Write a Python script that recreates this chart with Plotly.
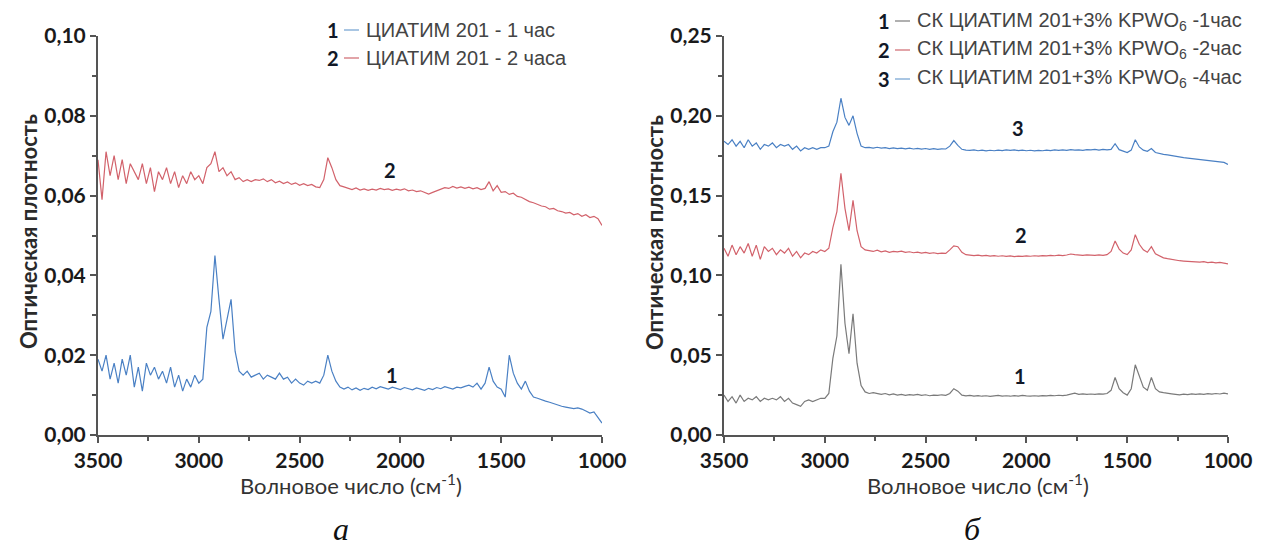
import plotly.graph_objects as go

# Wavenumber grid (cm-1), 3500 -> 1000, step 20
wavenumber = list(range(3500, 999, -20))

# Panel a: ЦИАТИМ 201
a1_1h = [
    0.019, 0.016, 0.020, 0.014, 0.018, 0.013, 0.019, 0.015, 0.020, 0.012,
    0.017, 0.011, 0.018, 0.015, 0.017, 0.014, 0.016, 0.013, 0.017, 0.012,
    0.015, 0.011, 0.014, 0.012, 0.015, 0.013,
    0.014, 0.027, 0.031, 0.045, 0.034, 0.024, 0.029, 0.034, 0.021, 0.016,
    0.015, 0.016, 0.0145, 0.015, 0.0155, 0.014, 0.015, 0.0145, 0.014, 0.0155, 0.014, 0.0145,
    0.013, 0.014, 0.013, 0.0125, 0.0135, 0.013, 0.0135, 0.013, 0.015, 0.020, 0.016, 0.0135, 0.012,
    0.0115, 0.012, 0.0113, 0.0118, 0.0112, 0.0117, 0.0114, 0.012, 0.0116, 0.0121,
    0.0118, 0.0115, 0.012, 0.0117, 0.0114, 0.0119, 0.0116, 0.0113, 0.0118, 0.0115,
    0.0112, 0.0117, 0.0114, 0.0119, 0.0116, 0.0121, 0.0117, 0.0115, 0.012, 0.0118, 0.0122,
    0.0125, 0.012, 0.013, 0.0115, 0.013, 0.017, 0.0135, 0.012, 0.0115, 0.0095,
    0.020, 0.0155, 0.013, 0.0115, 0.0135, 0.011, 0.0095, 0.0092, 0.0088, 0.0085,
    0.0082, 0.0078, 0.0075, 0.0072, 0.007, 0.0068, 0.0066, 0.0068, 0.0065, 0.006,
    0.0055, 0.0058, 0.0045, 0.003,
]
a2_2h = [
    0.069, 0.059, 0.071, 0.065, 0.070, 0.064, 0.069, 0.063, 0.068, 0.066,
    0.064, 0.068, 0.063, 0.067, 0.061, 0.066, 0.064, 0.067, 0.063, 0.066,
    0.062, 0.065, 0.063, 0.066, 0.064, 0.065,
    0.063, 0.067, 0.068, 0.071, 0.066, 0.067, 0.065, 0.066, 0.064, 0.0645,
    0.0635, 0.064, 0.0635, 0.064, 0.0638, 0.0642, 0.0635, 0.064, 0.0632, 0.0636,
    0.063, 0.0634, 0.0628, 0.0632, 0.0626, 0.063, 0.0625, 0.0628, 0.0622, 0.062,
    0.064, 0.0695, 0.067, 0.064, 0.0625,
    0.0622, 0.0618, 0.0615, 0.0619, 0.0614, 0.0617, 0.0613, 0.0616, 0.0614, 0.0618,
    0.0615, 0.0617, 0.0613, 0.0616, 0.0614, 0.0617, 0.0612, 0.0614, 0.061, 0.0612,
    0.0607, 0.0604, 0.0608, 0.0612, 0.0616, 0.062, 0.0618, 0.0623, 0.0619, 0.0622, 0.0618,
    0.0621, 0.0617, 0.062, 0.0615, 0.0618, 0.0635, 0.0612, 0.0625, 0.0608, 0.061,
    0.0603, 0.0606, 0.0598, 0.0596, 0.059, 0.0585, 0.0582, 0.0578, 0.0574, 0.0572,
    0.0566, 0.0568, 0.0562, 0.056, 0.0556, 0.0558, 0.0552, 0.0555, 0.0548, 0.0552,
    0.0545, 0.0548, 0.0542, 0.0525,
]

# Panel б: СК ЦИАТИМ 201+3% KPWO6
b1_1h = [
    0.025, 0.021, 0.024, 0.020, 0.025, 0.021, 0.023, 0.022, 0.024, 0.021,
    0.023, 0.022, 0.023, 0.022, 0.024, 0.021, 0.023, 0.020, 0.019, 0.018,
    0.021, 0.022, 0.021, 0.022, 0.023, 0.023,
    0.026, 0.048, 0.062, 0.107, 0.070, 0.051, 0.076, 0.045, 0.031, 0.027,
    0.026, 0.0265, 0.026, 0.0255, 0.026, 0.0252, 0.0257, 0.025, 0.0255, 0.0248,
    0.0253, 0.025, 0.0255, 0.0248, 0.0252, 0.0246, 0.025, 0.0248, 0.0252, 0.0249,
    0.026, 0.029, 0.0275, 0.025, 0.0245,
    0.0248, 0.0244, 0.0247, 0.0243, 0.0246, 0.0242, 0.0245, 0.0248, 0.0244, 0.0246,
    0.0243, 0.0247, 0.0244, 0.0248, 0.0245, 0.0243, 0.0246, 0.0244, 0.0247, 0.0245,
    0.0248, 0.0246, 0.0249, 0.0247, 0.025, 0.0258, 0.0262, 0.0255, 0.0258, 0.0254, 0.0257,
    0.0255, 0.0258, 0.0256, 0.026, 0.028, 0.036, 0.029, 0.0265, 0.025, 0.029,
    0.044, 0.037, 0.030, 0.028, 0.036, 0.029, 0.027, 0.0265, 0.026,
    0.0258, 0.0255, 0.0252, 0.0256, 0.0253, 0.0257, 0.0254, 0.0258, 0.0255, 0.0259,
    0.0256, 0.026, 0.0257, 0.0262, 0.0258,
]
b2_2h = [
    0.117, 0.112, 0.119, 0.113, 0.118, 0.114, 0.120, 0.112, 0.119, 0.110,
    0.118, 0.115, 0.117, 0.113, 0.116, 0.114, 0.117, 0.112, 0.115, 0.111,
    0.114, 0.113, 0.115, 0.114, 0.116, 0.115,
    0.117, 0.130, 0.140, 0.164, 0.142, 0.128, 0.147, 0.128, 0.118, 0.116,
    0.1155, 0.115, 0.1158, 0.1148, 0.1153, 0.1145, 0.115, 0.1147, 0.1152, 0.1144,
    0.1148, 0.1142, 0.1146, 0.114, 0.1144, 0.1138, 0.1142, 0.1137, 0.114, 0.1138,
    0.116, 0.1185, 0.118, 0.1145, 0.113,
    0.1128, 0.1124, 0.1127, 0.1122, 0.1125, 0.1121, 0.1124, 0.112, 0.1123, 0.1119,
    0.1122, 0.1118, 0.1121, 0.1119, 0.1122, 0.112, 0.1123, 0.1121, 0.1124, 0.1122,
    0.1125, 0.1123, 0.1127, 0.1124, 0.1128, 0.1134, 0.113, 0.1127, 0.1125, 0.1128, 0.1126,
    0.1125, 0.1128, 0.1126, 0.113, 0.115, 0.1215, 0.1165, 0.114, 0.113, 0.116,
    0.1255, 0.1195, 0.116, 0.1145, 0.118, 0.1135, 0.112, 0.111, 0.1105,
    0.11, 0.1095, 0.1092, 0.109, 0.1088, 0.1085, 0.1087, 0.1083, 0.1086, 0.108,
    0.1083, 0.1078, 0.1081, 0.1076, 0.1072,
]
b3_4h = [
    0.184, 0.182, 0.185, 0.181, 0.184, 0.180, 0.185, 0.181, 0.183, 0.179,
    0.182, 0.181, 0.183, 0.180, 0.182, 0.181, 0.182, 0.179, 0.181, 0.178,
    0.180, 0.179, 0.180, 0.179, 0.180, 0.180,
    0.181, 0.190, 0.196, 0.211, 0.199, 0.194, 0.200, 0.189, 0.181, 0.180,
    0.1802, 0.1798, 0.1803, 0.1797, 0.18, 0.1795, 0.1799, 0.1794, 0.1798, 0.1793,
    0.1797, 0.1792, 0.1796, 0.1791, 0.1795, 0.179, 0.1794, 0.179, 0.1793, 0.1792,
    0.181, 0.1845, 0.1815, 0.179, 0.1785,
    0.1783, 0.1786, 0.1781, 0.1785, 0.178, 0.1784, 0.1781, 0.1785, 0.1782, 0.1786,
    0.1783, 0.1787, 0.1782, 0.1785, 0.1781, 0.1784, 0.178, 0.1783, 0.1781, 0.1785,
    0.1782, 0.1786, 0.1783, 0.1787, 0.1784, 0.1788, 0.1785, 0.1787, 0.1784, 0.1788, 0.1786,
    0.1789, 0.1785, 0.179, 0.1787, 0.179, 0.1825, 0.1788, 0.1778, 0.177, 0.1785,
    0.185, 0.1805, 0.1785, 0.1778, 0.1795, 0.177, 0.1762, 0.1758, 0.1755,
    0.175, 0.1746, 0.1742, 0.1738, 0.1735, 0.1732, 0.173, 0.1728, 0.1726, 0.1724,
    0.172, 0.1718, 0.1712, 0.1708, 0.1695,
]

left_names = ["ЦИАТИМ 201 - 1 час", "ЦИАТИМ 201 - 2 часа"]
right_names = [
    "СК ЦИАТИМ 201+3% KPWO<sub>6</sub> -1час",
    "СК ЦИАТИМ 201+3% KPWO<sub>6</sub> -2час",
    "СК ЦИАТИМ 201+3% KPWO<sub>6</sub> -4час",
]
left_ticks = [0.0, 0.02, 0.04, 0.06, 0.08, 0.10]
right_ticks = [0.0, 0.05, 0.10, 0.15, 0.20, 0.25]
x_ticks = [3500, 3000, 2500, 2000, 1500, 1000]

BLUE = "#4a80c4"
RED = "#d2626b"
GRAY = "#7a7a7a"
LBLUE = "#a9c6e3"
LRED = "#e2a4a8"
LGRAY = "#b0b0b0"

W, H = 1264, 546
def px(x):
    return x / W
def py(y):
    return 1 - y / H

fig = go.Figure()
fig.add_trace(go.Scatter(x=wavenumber, y=a1_1h, mode="lines", line=dict(color=BLUE, width=1.2),
                         xaxis="x", yaxis="y", showlegend=False))
fig.add_trace(go.Scatter(x=wavenumber, y=a2_2h, mode="lines", line=dict(color=RED, width=1.2),
                         xaxis="x", yaxis="y", showlegend=False))
fig.add_trace(go.Scatter(x=wavenumber, y=b1_1h, mode="lines", line=dict(color=GRAY, width=1.2),
                         xaxis="x2", yaxis="y2", showlegend=False))
fig.add_trace(go.Scatter(x=wavenumber, y=b2_2h, mode="lines", line=dict(color=RED, width=1.2),
                         xaxis="x2", yaxis="y2", showlegend=False))
fig.add_trace(go.Scatter(x=wavenumber, y=b3_4h, mode="lines", line=dict(color=BLUE, width=1.2),
                         xaxis="x2", yaxis="y2", showlegend=False))

tickfont = dict(family="Lato, Open Sans, sans-serif", size=21, color="#1a1a1a", weight="bold")
axcommon = dict(showline=True, linecolor="#555", linewidth=2, ticks="outside", ticklen=6,
                tickcolor="#555", tickwidth=1.5, showgrid=False, zeroline=False,
                tickfont=tickfont, automargin=False, fixedrange=True)

ydom = [py(427), py(28)]
fig.update_layout(
    width=W, height=H,
    margin=dict(l=0, r=0, t=0, b=0),
    paper_bgcolor="white", plot_bgcolor="white",
    separators=",.",
    xaxis=dict(domain=[px(90), px(594)], range=[3500, 1000], tickvals=x_ticks,
               minor=dict(ticks="outside", ticklen=4, dtick=250, tickcolor="#555"),
               anchor="y", **axcommon),
    yaxis=dict(domain=ydom, range=[0, 0.10], tickvals=left_ticks, tickformat=".2f",
               minor=dict(ticks="outside", ticklen=4, dtick=0.01, tickcolor="#555"),
               anchor="x", **axcommon),
    xaxis2=dict(domain=[px(716), px(1220)], range=[3500, 1000], tickvals=x_ticks,
                minor=dict(ticks="outside", ticklen=4, dtick=250, tickcolor="#555"),
                anchor="y2", **axcommon),
    yaxis2=dict(domain=ydom, range=[0, 0.25], tickvals=right_ticks, tickformat=".2f",
                minor=dict(ticks="outside", ticklen=4, dtick=0.025, tickcolor="#555"),
                anchor="x2", **axcommon),
)

ann = []
shapes = []
# axis titles
xtitle = "Волновое число (см<sup>-1</sup>)"
ytitle = "Оптическая плотность"
titlefont = dict(family="Lato, Open Sans, sans-serif", size=22, color="#333")
ytfont = dict(family="Lato, Open Sans, sans-serif", size=22, color="#2a2a2a", weight="bold")
for cx in (343, 970):
    ann.append(dict(x=px(cx), y=py(476), xref="paper", yref="paper", text=xtitle, showarrow=False,
                    font=titlefont, xanchor="center", yanchor="middle"))
for cx in (20, 646):
    ann.append(dict(x=px(cx), y=py(224), xref="paper", yref="paper", text=ytitle, showarrow=False,
                    font=ytfont, textangle=-90, xanchor="center", yanchor="middle"))
# panel captions
capfont = dict(family="Liberation Serif, DejaVu Serif, serif", size=32, color="#111", style="italic")
ann.append(dict(x=px(323), y=py(521), xref="paper", yref="paper", text="а", showarrow=False,
                font=capfont, yanchor="middle"))
ann.append(dict(x=px(975), y=py(521), xref="paper", yref="paper", text="б", showarrow=False,
                font=capfont, yanchor="middle"))

# curve labels
labfont = dict(family="Lato, Open Sans, sans-serif", size=20, color="#111827", weight="bold")
curve_labels = [("x", "y", 2044, 0.0150, "1"), ("x", "y", 2054, 0.0665, "2"),
                ("x2", "y2", 2030, 0.0370, "1"), ("x2", "y2", 2027, 0.1255, "2"),
                ("x2", "y2", 2042, 0.1925, "3")]
for xr, yr, xv, yv, t in curve_labels:
    ann.append(dict(x=xv, y=yv, xref=xr, yref=yr, text=t, showarrow=False, font=labfont))

# legends (manual)
legfont = dict(family="Liberation Sans, Arial, sans-serif", size=20, color="#444")
numfont = dict(family="Lato, Open Sans, sans-serif", size=20, color="#111827", weight="bold")
left_rows = [(22, LBLUE), (50, LRED)]
for i, (ry, col) in enumerate(left_rows):
    ann.append(dict(x=px(325), y=py(ry), xref="paper", yref="paper", text=str(i + 1),
                    showarrow=False, font=numfont, xanchor="center", yanchor="middle"))
    shapes.append(dict(type="line", xref="paper", yref="paper", x0=px(336), x1=px(351),
                       y0=py(ry), y1=py(ry), line=dict(color=col, width=2)))
    ann.append(dict(x=px(356), y=py(ry), xref="paper", yref="paper", text=left_names[i],
                    showarrow=False, font=legfont, xanchor="left", yanchor="middle"))
right_rows = [(13, LGRAY), (42, LRED), (71, LBLUE)]
for i, (ry, col) in enumerate(right_rows):
    ann.append(dict(x=px(876), y=py(ry), xref="paper", yref="paper", text=str(i + 1),
                    showarrow=False, font=numfont, xanchor="center", yanchor="middle"))
    shapes.append(dict(type="line", xref="paper", yref="paper", x0=px(887), x1=px(902),
                       y0=py(ry), y1=py(ry), line=dict(color=col, width=2)))
    ann.append(dict(x=px(907), y=py(ry), xref="paper", yref="paper", text=right_names[i],
                    showarrow=False, font=legfont, xanchor="left", yanchor="middle"))

fig.update_layout(annotations=ann, shapes=shapes)
fig.write_html("out.html")
